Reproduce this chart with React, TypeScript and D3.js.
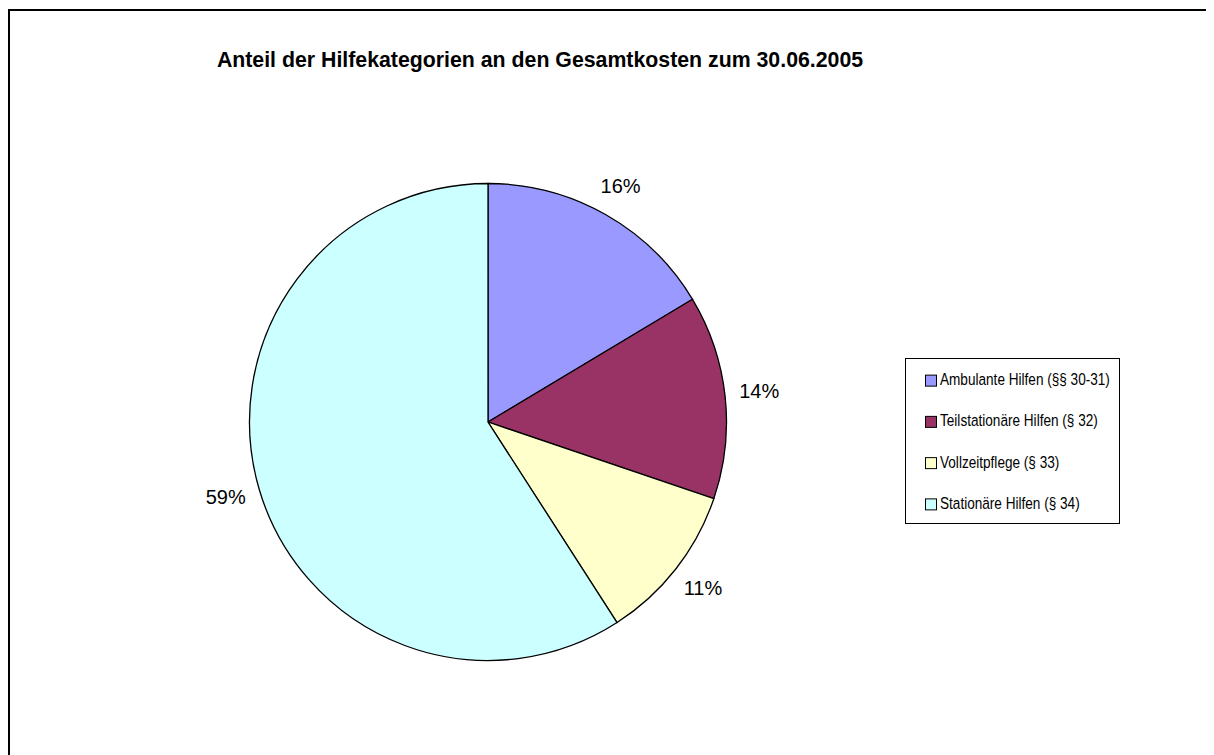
import React from 'react';
import * as d3 from 'd3';

const categories = [
  'Ambulante Hilfen (§§ 30-31)',
  'Teilstationäre Hilfen (§ 32)',
  'Vollzeitpflege (§ 33)',
  'Stationäre Hilfen (§ 34)',
];
// shares in percent, read from the slice edges
const shares = [16.4, 13.8, 10.7, 59.1];
const colors = ['#9999FF', '#993366', '#FFFFCC', '#CCFFFF'];

const title = 'Anteil der Hilfekategorien an den Gesamtkosten zum 30.06.2005';

export default function App() {
  const width = 1206;
  const height = 747;
  // page offset is 8px (body margin), so coordinates below are page - 8
  const cx = 488 - 8;
  const cy = 422 - 8;
  const r = 238.5;

  const data = categories.map((name, i) => ({ name, value: shares[i], color: colors[i] }));
  const total = d3.sum(shares);
  const pie = d3.pie<any>().sort(null).value((d) => d.value);
  const arcs = pie(data);
  const arc = d3.arc<any>().innerRadius(0).outerRadius(r);

  // label box just outside the rim, along the mid angle
  const labelW = 39;
  const labelH = 16;
  const labelPos = (a: any) => {
    const m = (a.startAngle + a.endAngle) / 2;
    const s = Math.sin(m);
    const c = -Math.cos(m);
    const R = r + 14 + (labelW / 2) * Math.abs(s) + (labelH / 2) * Math.abs(c);
    return [R * s, R * c];
  };

  const legend = { x: 905 - 8, y: 358 - 8, w: 214, h: 165 };
  const rowY = d3.scaleBand<number>().domain(d3.range(categories.length)).range([0, legend.h]);

  return (
    <svg width={width} height={height} style={{ display: 'block', fontFamily: 'Arial, "Liberation Sans", sans-serif' }}>
      <rect x={1} y={2} width={width + 10} height={height + 10} fill="#fff" stroke="#000" strokeWidth={2} />
      <text x={540 - 8} y={61 - 8} textAnchor="middle" dominantBaseline="middle" fontSize={21.3} fontWeight="bold">
        {title}
      </text>
      <g transform={`translate(${cx},${cy})`}>
        {arcs.map((a, i) => (
          <path key={i} d={arc(a) as string} fill={a.data.color} stroke="#000" strokeWidth={1.3} />
        ))}
        {arcs.map((a, i) => {
          const [lx, ly] = labelPos(a);
          return (
            <text key={i} x={lx} y={ly} textAnchor="middle" dominantBaseline="middle" fontSize={20}>
              {Math.round((a.data.value / total) * 100)}%
            </text>
          );
        })}
      </g>
      <g transform={`translate(${legend.x},${legend.y})`}>
        <rect x={0.5} y={0.5} width={legend.w} height={legend.h} fill="#fff" stroke="#000" strokeWidth={1} />
        {data.map((d, i) => {
          const y = (rowY(i) as number) + rowY.bandwidth() / 2 + 2;
          return (
            <g key={i}>
              <rect x={20.5} y={y - 5.5} width={11} height={11} fill={d.color} stroke="#000" strokeWidth={1} />
              <text
                transform={`translate(35,${y}) scale(1,1.25)`}
                dominantBaseline="middle"
                fontSize={13.6}
              >
                {d.name}
              </text>
            </g>
          );
        })}
      </g>
    </svg>
  );
}
